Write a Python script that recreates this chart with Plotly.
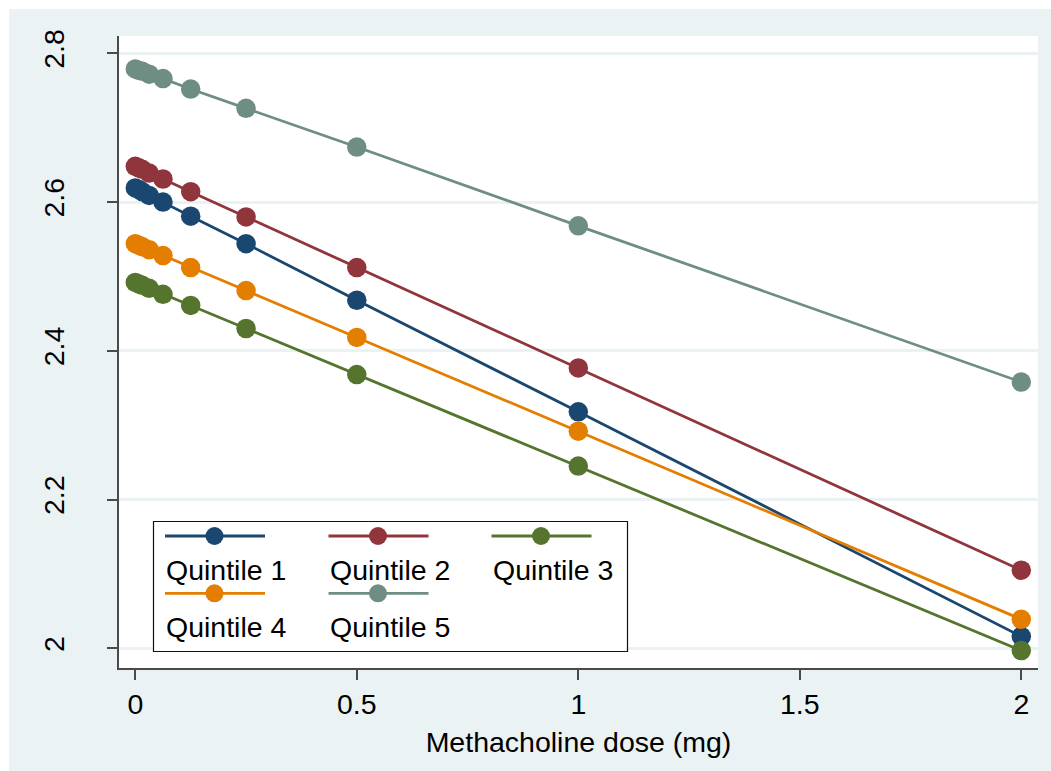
import plotly.graph_objects as go

# ---- data ----
dose = [0, 0.0078, 0.0156, 0.03125, 0.0625, 0.125, 0.25, 0.5, 1, 2]
q1 = [2.619, 2.617, 2.614, 2.609, 2.600, 2.581, 2.544, 2.468, 2.318, 2.016]
q2 = [2.648, 2.646, 2.644, 2.639, 2.631, 2.614, 2.580, 2.512, 2.377, 2.105]
q3 = [2.492, 2.490, 2.488, 2.484, 2.476, 2.461, 2.430, 2.368, 2.245, 1.997]
q4 = [2.544, 2.542, 2.540, 2.536, 2.528, 2.512, 2.481, 2.418, 2.292, 2.039]
q5 = [2.779, 2.777, 2.776, 2.772, 2.766, 2.752, 2.726, 2.674, 2.568, 2.358]
series_names = ["Quintile 1", "Quintile 2", "Quintile 3", "Quintile 4", "Quintile 5"]
series_vals = [q1, q2, q3, q4, q5]
colors = ["#1a476f", "#90353b", "#55752f", "#e37e00", "#6e8e84"]
x_ticks = [0, 0.5, 1, 1.5, 2]
x_ticklabels = ["0", "0.5", "1", "1.5", "2"]
y_ticks = [2, 2.2, 2.4, 2.6, 2.8]
y_ticklabels = ["2", "2.2", "2.4", "2.6", "2.8"]

W, H = 1051, 771
L, R, T, B = 119, 13, 36, 103
PW, PH = W - L - R, H - T - B
FONT = "Liberation Sans, Arial, sans-serif"
FS = 28.5
BG = "#eaf2f3"

def px(xp):
    return (xp - L) / PW

def py(yp):
    return (H - B - yp) / PH

fig = go.Figure()
for name, vals, c in zip(series_names, series_vals, colors):
    fig.add_trace(go.Scatter(x=dose, y=vals, name=name, mode="lines+markers",
                             line=dict(color=c, width=2.8),
                             marker=dict(color=c, size=19.5, line=dict(width=0)),
                             showlegend=False))

shapes = [
    dict(type="rect", xref="paper", yref="paper", x0=px(9), x1=px(W + 5), y0=py(H + 5), y1=py(9),
         fillcolor=BG, line=dict(width=0), layer="below"),
    dict(type="rect", xref="paper", yref="paper", x0=0, x1=1, y0=0, y1=1,
         fillcolor="white", line=dict(width=0), layer="below"),
    # legend box
    dict(type="rect", xref="paper", yref="paper", x0=px(153.5), x1=px(627.5), y0=py(651.5), y1=py(521.5),
         fillcolor="white", line=dict(color="#111111", width=1.2), layer="above"),
]
annotations = []
col_x = [165, 328.5, 491.5]
row_line_y = [536, 593.3]
row_text_y = [570, 626.5]
for i, (name, c) in enumerate(zip(series_names, colors)):
    r, k = divmod(i, 3)
    x0 = col_x[k]
    ly = row_line_y[r]
    shapes.append(dict(type="line", xref="paper", yref="paper", x0=px(x0), x1=px(x0 + 100),
                       y0=py(ly), y1=py(ly), line=dict(color=c, width=2.8), layer="above"))
    shapes.append(dict(type="circle", xref="paper", yref="paper", xsizemode="pixel", ysizemode="pixel",
                       xanchor=px(x0 + 49.5), yanchor=py(ly), x0=-9, x1=9, y0=-9, y1=9,
                       fillcolor=c, line=dict(width=0), layer="above"))
    annotations.append(dict(xref="paper", yref="paper", x=px(x0 - 1), y=py(row_text_y[r]), text=name,
                            showarrow=False, xanchor="left", yanchor="middle",
                            font=dict(family=FONT, size=FS, color="#000000")))

fig.update_layout(
    width=W, height=H,
    margin=dict(l=L, r=R, t=T, b=B),
    paper_bgcolor="white", plot_bgcolor="white",
    font=dict(family=FONT, size=FS, color="#000000"),
    shapes=shapes, annotations=annotations,
    showlegend=False,
    xaxis=dict(range=[-0.0368, 2.0377], tickvals=x_ticks, ticktext=x_ticklabels,
               showgrid=False, zeroline=False, showline=True, linecolor="#4a4a4a", linewidth=1.5,
               ticks="outside", ticklen=10, tickwidth=1.5, tickcolor="#4a4a4a",
               tickfont=dict(family=FONT, size=FS, color="#000000"),
               title=dict(text="Methacholine dose (mg)", font=dict(family=FONT, size=FS, color="#000000"),
                          standoff=13)),
    yaxis=dict(range=[1.9735, 2.8233], tickvals=y_ticks, ticktext=y_ticklabels, tickangle=-90,
               showgrid=True, gridcolor=BG, gridwidth=2.5, zeroline=False,
               showline=True, linecolor="#4a4a4a", linewidth=1.5,
               ticks="outside", ticklen=10, tickwidth=1.5, tickcolor="#4a4a4a",
               ticklabelstandoff=32,
               tickfont=dict(family=FONT, size=FS, color="#000000")),
)

fig.write_html("out.html")
